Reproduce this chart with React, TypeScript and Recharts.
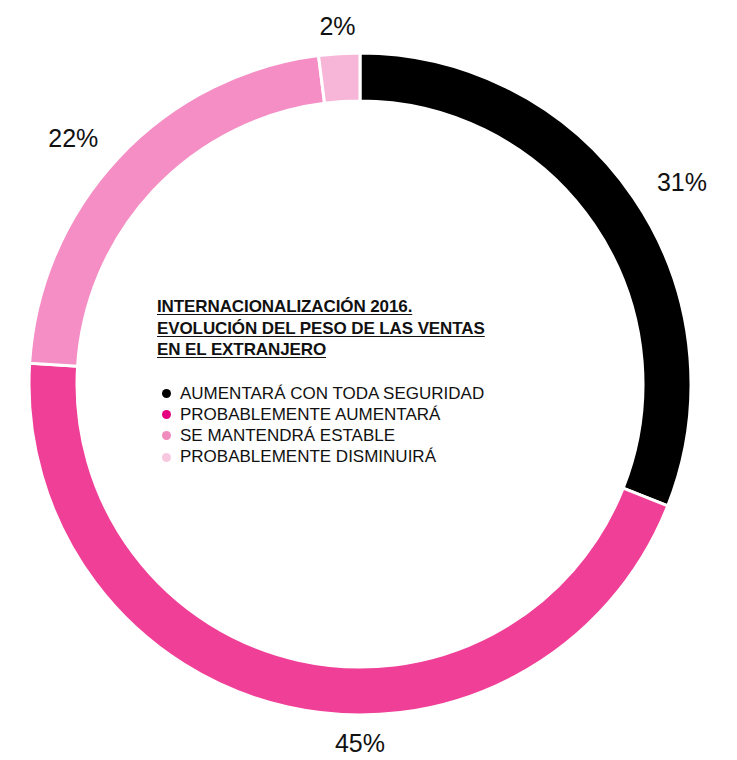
import { Cell, Pie, PieChart } from "recharts";

const categories = [
  "AUMENTARÁ CON TODA SEGURIDAD",
  "PROBABLEMENTE AUMENTARÁ",
  "SE MANTENDRÁ ESTABLE",
  "PROBABLEMENTE DISMINUIRÁ",
];
const values = [31, 45, 22, 2];
const sliceColors = ["#000000", "#EF3F97", "#F48EC4", "#F7B5D8"];
const legendColors = ["#000000", "#E5007D", "#F08BBE", "#F8C8E0"];
const titleLines = [
  "INTERNACIONALIZACIÓN 2016.",
  "EVOLUCIÓN DEL PESO DE LAS VENTAS",
  "EN EL EXTRANJERO",
];

const data = categories.map((name, i) => ({ name, value: values[i] }));

const RADIAN = Math.PI / 180;

function renderLabel(props: any) {
  const { cx, cy, midAngle, outerRadius, value } = props;
  let angle = midAngle;
  // bottom label sits centred under the ring
  if (Math.abs(angle + 90) < 15) angle = -90;
  const r = outerRadius + 28;
  const cos = Math.cos(-angle * RADIAN);
  const x = cx + r * cos;
  const y = cy + r * Math.sin(-angle * RADIAN);
  const anchor = cos > 0.3 ? "start" : cos < -0.3 ? "end" : "middle";
  return (
    <text
      x={x}
      y={y}
      textAnchor={anchor}
      dominantBaseline="central"
      fill="#111"
      fontSize={25}
      fontFamily="Liberation Sans, Arial, sans-serif"
    >
      {value}%
    </text>
  );
}

export default function App() {
  return (
    <div style={{ position: "absolute", left: 0, top: 0, width: 737, height: 760, background: "#fff" }}>
      <PieChart width={737} height={760} margin={{ top: 0, right: 0, bottom: 0, left: 0 }}>
        <Pie
          data={data}
          dataKey="value"
          cx={360}
          cy={384}
          innerRadius={283}
          outerRadius={331}
          startAngle={90}
          endAngle={-270}
          stroke="#fff"
          strokeWidth={3}
          label={renderLabel}
          labelLine={false}
          isAnimationActive={false}
        >
          {data.map((entry, index) => (
            <Cell key={`cell-${index}`} fill={sliceColors[index]} />
          ))}
        </Pie>
      </PieChart>
      <div
        style={{
          position: "absolute",
          left: 157,
          top: 296,
          fontFamily: "Liberation Sans, Arial, sans-serif",
          color: "#111",
        }}
      >
        {titleLines.map((line) => (
          <div
            key={line}
            style={{
              fontWeight: "bold",
              fontSize: 17,
              lineHeight: "21.5px",
              letterSpacing: -0.1,
              textDecoration: "underline",
              textUnderlineOffset: 2,
            }}
          >
            {line}
          </div>
        ))}
        <div style={{ height: 22 }} />
        {categories.map((name, i) => (
          <div
            key={name}
            style={{ display: "flex", alignItems: "center", fontSize: 17, lineHeight: "21.3px", letterSpacing: 0 }}
          >
            <span
              style={{
                display: "inline-block",
                width: 9,
                height: 9,
                borderRadius: "50%",
                background: legendColors[i],
                marginLeft: 5,
                marginRight: 9,
              }}
            />
            {name}
          </div>
        ))}
      </div>
    </div>
  );
}
